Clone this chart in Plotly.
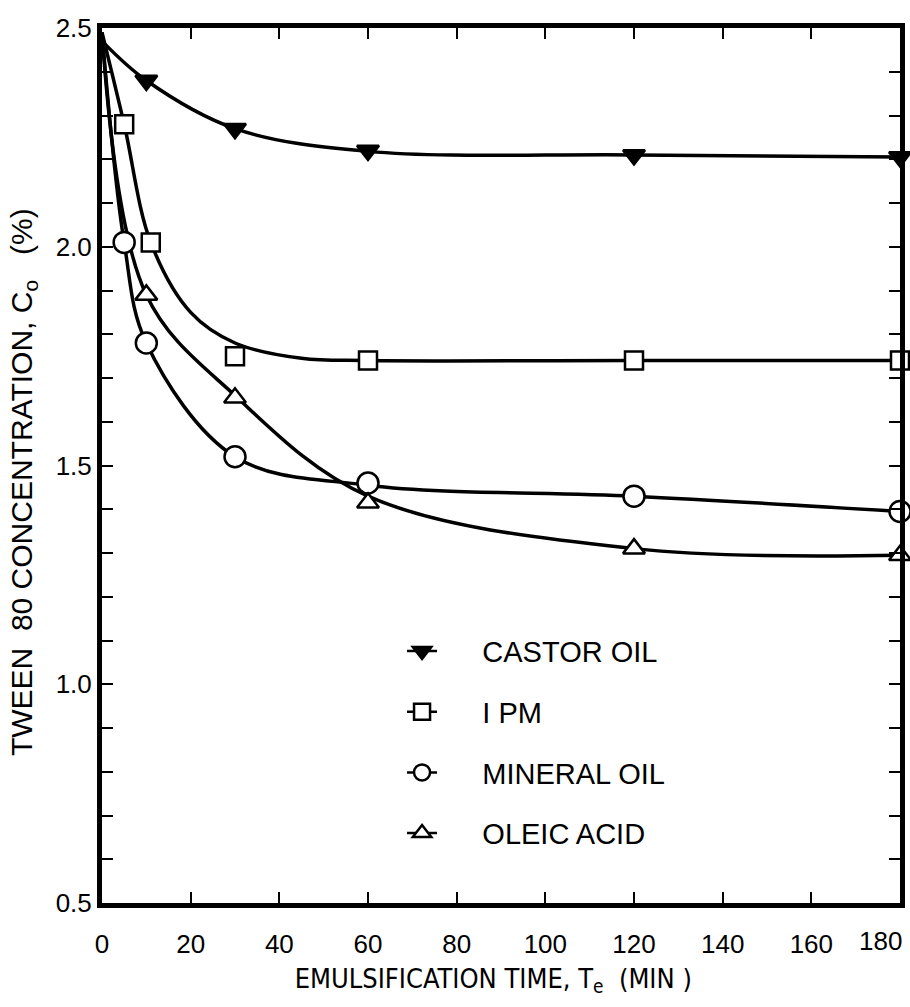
import plotly.graph_objects as go

# Measured points (minutes, %)
castor_t = [10, 30, 60, 120, 180]
castor_c = [2.38, 2.27, 2.22, 2.21, 2.205]
ipm_t = [5, 11, 30, 60, 120, 180]
ipm_c = [2.28, 2.01, 1.75, 1.74, 1.74, 1.74]
mineral_t = [5, 10, 30, 60, 120, 180]
mineral_c = [2.01, 1.78, 1.52, 1.46, 1.43, 1.395]
oleic_t = [10, 30, 60, 120, 180]
oleic_c = [1.89, 1.655, 1.415, 1.31, 1.295]

# Nodes of the hand-drawn smooth curves
castor_curve_t = [0, 10, 30, 60, 120, 180]
castor_curve_c = [2.47, 2.38, 2.27, 2.218, 2.21, 2.205]
ipm_curve_t = [0, 5, 11, 20, 30, 45, 60, 120, 180]
ipm_curve_c = [2.49, 2.28, 2.01, 1.85, 1.78, 1.745, 1.74, 1.74, 1.74]
mineral_curve_t = [0, 5, 10, 30, 60, 120, 180]
mineral_curve_c = [2.49, 2.01, 1.78, 1.52, 1.455, 1.43, 1.395]
oleic_curve_t = [0, 10, 30, 60, 120, 180]
oleic_curve_c = [2.49, 1.89, 1.66, 1.43, 1.31, 1.295]

series = [
    ("CASTOR OIL", "castor", castor_t, castor_c, castor_curve_t, castor_curve_c, "triangle-down", "black", 19),
    ("I PM", "ipm", ipm_t, ipm_c, ipm_curve_t, ipm_curve_c, "square", "white", 18),
    ("MINERAL OIL", "mineral", mineral_t, mineral_c, mineral_curve_t, mineral_curve_c, "circle", "white", 21),
    ("OLEIC ACID", "oleic", oleic_t, oleic_c, oleic_curve_t, oleic_curve_c, "triangle-up", "white", 19),
]

x_ticks = [0, 20, 40, 60, 80, 100, 120, 140, 160, 180]
x_ticklabels = ["0", "20", "40", "60", "80", "100", "120", "140", "160", "180"]
y_ticks = [0.5, 1.0, 1.5, 2.0, 2.5]
y_ticktext = ["0.5", "1.0", "1.5", "2.0", "2.5"]

SANS = "Liberation Sans, Arial, sans-serif"
COND = "DejaVu Sans Condensed, Liberation Sans, sans-serif"
GAP = "\u00a0" * 5
NB = "\u00a0"
ZW = "\u200b"

fig = go.Figure()
for name, key, t, c, ct, cc, sym, fill, size in series:
    fig.add_trace(go.Scatter(
        x=ct, y=cc, mode="lines",
        line=dict(color="black", width=3.5, shape="spline", smoothing=1.0),
        showlegend=False, hoverinfo="skip"))
for name, key, t, c, ct, cc, sym, fill, size in series:
    fig.add_trace(go.Scatter(
        x=t, y=c, mode="markers", cliponaxis=False, name=name,
        marker=dict(symbol=sym, size=size, color=fill,
                    line=dict(color="black", width=2.5)),
        showlegend=False))
    fig.add_trace(go.Scatter(
        x=[None], y=[None], mode="lines+markers", name=GAP + name, legendgroup=key,
        marker=dict(symbol=sym, size=size - 2, color=fill,
                    line=dict(color="black", width=2.5)),
        line=dict(color="black", width=2.5)))

# the last x tick label (180) sits left-shifted against the frame edge
x_ticktext = x_ticklabels[:-1] + [""]
fig.add_annotation(
    x=x_ticks[-1], xref="x", y=0, yref="paper", text=x_ticklabels[-1],
    showarrow=False, xanchor="right", yanchor="top", xshift=4, yshift=-21,
    font=dict(size=26, family=SANS, color="black"))

fig.update_layout(
    width=910, height=1007,
    margin=dict(l=102, r=10, t=28, b=104, autoexpand=False),
    paper_bgcolor="white", plot_bgcolor="white",
    font=dict(family=SANS, color="black", size=24),
    legend=dict(x=0.376, y=0.317, xanchor="left", yanchor="top",
                bgcolor="rgba(0,0,0,0)", tracegroupgap=20,
                font=dict(size=29, family=SANS)),
    xaxis=dict(
        range=[0, 180], tickvals=x_ticks, ticktext=x_ticktext,
        ticks="inside", ticklen=11, tickwidth=2, tickcolor="black",
        showline=True, linewidth=5, linecolor="black", mirror="ticks",
        showgrid=False, zeroline=False,
        ticklabelstandoff=14, automargin=False,
        tickfont=dict(size=26, family=SANS),
        title=dict(text="EMULSIFICATION TIME, T<sub>e</sub>  (MIN )" + NB * 2 + ZW,
                   font=dict(size=27, family=COND), standoff=12),
    ),
    yaxis=dict(
        range=[0.5, 2.5], tickvals=y_ticks, ticktext=y_ticktext,
        ticks="inside", ticklen=11, tickwidth=2, tickcolor="black",
        minor=dict(dtick=0.1, ticks="inside", ticklen=11, tickwidth=2, tickcolor="black"),
        showline=True, linewidth=5, linecolor="black", mirror="ticks",
        showgrid=False, zeroline=False, automargin=False,
        tickfont=dict(size=26, family=SANS),
        title=dict(text="TWEEN" + NB * 2 + "80" + NB + "CONCENTRATION," + NB + "C<sub>o</sub>"
                   + NB * 3 + "(%)" + NB * 4 + ZW,
                   font=dict(size=30, family=SANS), standoff=16),
    ),
)

fig.write_html("out.html")
